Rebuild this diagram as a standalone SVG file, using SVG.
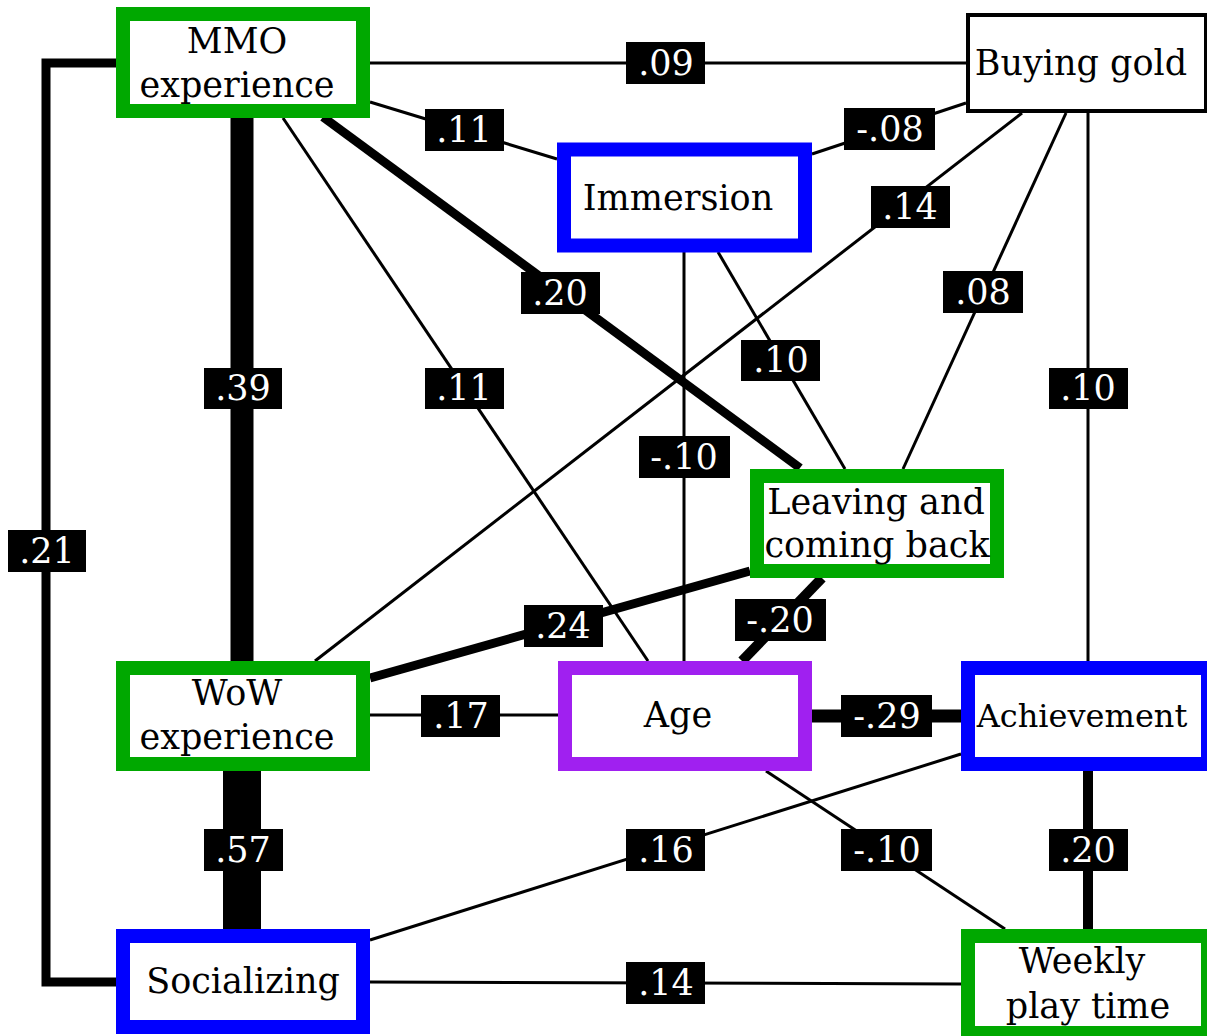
<svg xmlns="http://www.w3.org/2000/svg" width="1207" height="1036" viewBox="0 0 1207 1036">
<style>
text{font-family:"DejaVu Serif","Liberation Serif",serif;font-size:35px;text-anchor:middle}
.n{fill:#fff}
.g{stroke:#00a800;stroke-width:14}
.b{stroke:#0000ff;stroke-width:14}
.p{stroke:#a020f0;stroke-width:14}
.k{stroke:#000;stroke-width:4}
.e{fill:none;stroke:#000;stroke-width:3}
.lb rect{fill:#000}
.lb text{fill:#fff}
</style>
<rect width="1207" height="1036" fill="#fff"/>
<g id="connectors">
<line class="e" x1="370" y1="63" x2="966" y2="63"/>
<line class="e" x1="370" y1="102" x2="557" y2="159"/>
<line class="e" x1="812" y1="154" x2="966" y2="103"/>
<line class="e" x1="315" y1="661" x2="1022" y2="113"/>
<line class="e" x1="1066" y1="113" x2="903" y2="469"/>
<line class="e" x1="1088" y1="113" x2="1088" y2="661"/>
<line class="e" x1="242" y1="118" x2="242" y2="661" style="stroke-width:23"/>
<line class="e" x1="283" y1="118" x2="648" y2="661"/>
<line class="e" x1="323" y1="117" x2="800" y2="468" style="stroke-width:9"/>
<line class="e" x1="684" y1="252" x2="684" y2="661"/>
<line class="e" x1="718" y1="252" x2="845" y2="469"/>
<line class="e" x1="370" y1="678" x2="750" y2="571" style="stroke-width:9"/>
<line class="e" x1="822" y1="578" x2="742" y2="661" style="stroke-width:10"/>
<line class="e" x1="370" y1="715" x2="558" y2="715"/>
<line class="e" x1="812" y1="716" x2="961" y2="716" style="stroke-width:13"/>
<line class="e" x1="242" y1="771" x2="242" y2="929" style="stroke-width:38"/>
<polyline class="e" points="116,63 46,63 46,982 116,982" style="stroke-width:9"/>
<line class="e" x1="370" y1="940" x2="961" y2="754"/>
<line class="e" x1="766" y1="771" x2="1005" y2="929"/>
<line class="e" x1="1088" y1="771" x2="1088" y2="929" style="stroke-width:10"/>
<line class="e" x1="370" y1="982" x2="961" y2="984"/>
<g class="lb">
<rect x="626" y="42" width="79" height="42"/><text x="666" y="75">.09</text>
<rect x="425" y="109" width="79" height="42"/><text x="464" y="142">.11</text>
<rect x="844" y="108" width="91" height="42"/><text x="890" y="141">-.08</text>
<rect x="871" y="186" width="79" height="42"/><text x="910" y="219">.14</text>
<rect x="943" y="271" width="80" height="42"/><text x="983" y="304">.08</text>
<rect x="1049" y="368" width="79" height="41"/><text x="1088" y="400">.10</text>
<rect x="204" y="368" width="78" height="41"/><text x="243" y="400">.39</text>
<rect x="425" y="368" width="79" height="41"/><text x="464" y="400">.11</text>
<rect x="521" y="272" width="79" height="42"/><text x="560" y="305">.20</text>
<rect x="639" y="436" width="91" height="42"/><text x="684" y="469">-.10</text>
<rect x="741" y="340" width="79" height="41"/><text x="781" y="372">.10</text>
<rect x="524" y="605" width="79" height="42"/><text x="563" y="638">.24</text>
<rect x="735" y="599" width="91" height="42"/><text x="780" y="632">-.20</text>
<rect x="421" y="695" width="79" height="42"/><text x="461" y="728">.17</text>
<rect x="841" y="695" width="91" height="42"/><text x="887" y="728">-.29</text>
<rect x="204" y="829" width="79" height="42"/><text x="243" y="862">.57</text>
<rect x="8" y="530" width="78" height="42"/><text x="47" y="563">.21</text>
<rect x="626" y="829" width="79" height="42"/><text x="666" y="862">.16</text>
<rect x="841" y="829" width="91" height="42"/><text x="887" y="862">-.10</text>
<rect x="1049" y="829" width="79" height="42"/><text x="1088" y="862">.20</text>
<rect x="626" y="962" width="79" height="42"/><text x="666" y="995">.14</text>
</g>
</g>
<g id="mmo"><rect class="n g" x="123" y="14" width="240" height="97"/><text x="237" y="53">MMO</text><text x="237" y="97">experience</text></g>
<g id="buying-gold"><rect class="n k" x="968" y="15" width="238" height="96"/><text x="1081" y="75">Buying gold</text></g>
<g id="immersion"><rect class="n b" x="564" y="149.5" width="241" height="96"/><text x="678" y="210">Immersion</text></g>
<g id="leaving"><rect class="n g" x="757" y="476" width="240" height="95"/><text x="876" y="514">Leaving and</text><text x="877" y="557">coming back</text></g>
<g id="wow"><rect class="n g" x="123" y="668" width="240" height="96"/><text x="237" y="705">WoW</text><text x="237" y="749">experience</text></g>
<g id="age"><rect class="n p" x="565" y="668" width="240" height="96"/><text x="678" y="727">Age</text></g>
<g id="achievement"><rect class="n b" x="968" y="668" width="240" height="96"/><text x="1082" y="727" style="font-size:32px">Achievement</text></g>
<g id="socializing"><rect class="n b" x="123" y="936" width="240" height="91"/><text x="243" y="993">Socializing</text></g>
<g id="weekly"><rect class="n g" x="968" y="936" width="240" height="97"/><text x="1082" y="973">Weekly</text><text x="1088" y="1018">play time</text></g>
</svg>
